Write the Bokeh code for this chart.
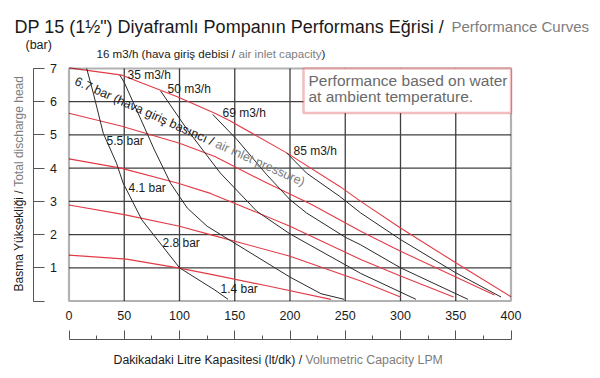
import math
from bokeh.plotting import figure
from bokeh.models import LinearAxis, FixedTicker, Label, BoxAnnotation, Range1d
from bokeh.embed import file_html
from bokeh.resources import INLINE

# ---------------- data ----------------
x_ticks = [0, 50, 100, 150, 200, 250, 300, 350, 400]
x_minor = [25, 75, 125, 175, 225, 275, 325, 375]
y_ticks = [1, 2, 3, 4, 5, 6, 7]
x_lim = [0, 400]
y_lim = [0, 7]

# red: head vs flow at constant air inlet pressure
p67_x = [0, 48, 98, 132, 146, 197, 245, 264, 300, 350, 400]
p67_y = [7.02, 6.8, 6.15, 5.65, 5.42, 4.46, 3.45, 3.0, 2.2, 1.15, 0.13]
p55_x = [0, 47, 100, 132, 175, 220, 264, 300, 350, 385]
p55_y = [5.65, 5.27, 4.75, 4.35, 3.62, 2.9, 2.1, 1.5, 0.72, 0.18]
p41_x = [0, 47, 98, 128, 164, 200, 264, 300, 348]
p41_y = [4.28, 4.0, 3.55, 3.24, 2.75, 2.25, 1.25, 0.75, 0.12]
p28_x = [0, 50, 100, 132, 200, 264, 300]
p28_y = [2.89, 2.6, 2.25, 1.96, 1.35, 0.6, 0.12]
p14_x = [0, 52, 100, 132, 180, 237]
p14_y = [1.38, 1.26, 0.99, 0.78, 0.45, 0.05]

# black: constant air consumption
q16_x = [16, 22, 31, 43, 49, 66, 100, 132, 144]
q16_y = [7.0, 6.26, 5.05, 4.15, 3.55, 2.44, 1.0, 0.33, 0.05]
q35_x = [46, 50, 65, 77, 92, 107, 125, 151, 200, 228, 249]
q35_y = [6.8, 6.58, 5.47, 4.57, 3.54, 2.8, 2.25, 1.72, 0.72, 0.22, 0.05]
q50_x = [83, 107, 137, 170, 200, 264, 314]
q50_y = [6.32, 5.16, 3.85, 2.7, 2.02, 0.83, 0.05]
q69_x = [130, 152, 179, 200, 215, 250, 264, 300, 361]
q69_y = [5.62, 4.86, 3.8, 3.05, 2.65, 1.92, 1.69, 1.0, 0.05]
q85_x = [197, 215, 245, 264, 300, 350, 391]
q85_y = [4.46, 3.85, 3.15, 2.65, 1.85, 0.85, 0.12]

red_curves = [(p67_x, p67_y), (p55_x, p55_y), (p41_x, p41_y), (p28_x, p28_y), (p14_x, p14_y)]
black_curves = [(q16_x, q16_y), (q35_x, q35_y), (q50_x, q50_y), (q69_x, q69_y), (q85_x, q85_y)]

RED = "#e23b46"
DARK = "#2b2b2b"
GRAY = "#7d7d7d"
TXT = "#1a1a1a"
FONT = "Liberation Sans"

W, H = 600, 378
L_PX, R_PX, T_PX, B_PX = 68.5, 510.5, 68.0, 300.5
sx = (R_PX - L_PX) / (x_lim[1] - x_lim[0])
sy = (B_PX - T_PX) / (y_lim[1] - y_lim[0])

p = figure(width=W, height=H, output_backend="svg", toolbar_location=None,
           x_range=Range1d(-L_PX / sx, (W - L_PX) / sx),
           y_range=Range1d(-(H - B_PX) / sy, B_PX / sy),
           x_axis_type=None, y_axis_type=None, min_border=0)
p.outline_line_color = None
p.background_fill_color = "white"
p.border_fill_color = "white"
p.xgrid.visible = False
p.ygrid.visible = False


def dx(px_):
    return (px_ - L_PX) / sx


def dy(py_):
    return (B_PX - py_) / sy


gx = x_ticks[1:-1]
p.segment(x0=gx, y0=[y_lim[0]] * len(gx), x1=gx, y1=[y_lim[1]] * len(gx), line_color="#404040", line_width=1.3)
gy = y_ticks[:-1]
p.segment(x0=[x_lim[0]] * len(gy), y0=gy, x1=[x_lim[1]] * len(gy), y1=gy, line_color="#404040", line_width=1.3)

for xs, ys in red_curves:
    p.line(xs, ys, line_color=RED, line_width=1.1)
for xs, ys in black_curves:
    p.line(xs, ys, line_color=DARK, line_width=1.0)

p.add_layout(BoxAnnotation(left=x_lim[0], right=x_lim[1], bottom=y_lim[0], top=y_lim[1],
                           fill_alpha=0, fill_color=None, line_color="black", line_width=2.2))

y_lab = LinearAxis(ticker=FixedTicker(ticks=y_ticks), fixed_location=x_lim[0], axis_line_color=None,
                   major_tick_line_color=None, minor_tick_line_color=None, major_tick_out=0, major_tick_in=0,
                   major_label_standoff=12, major_label_text_font_size="12.5px", major_label_text_font=FONT,
                   major_label_text_color=TXT)
y_line = LinearAxis(ticker=FixedTicker(ticks=[0] + y_ticks), fixed_location=dx(33), bounds=tuple(y_lim),
                    axis_line_color="#555555", axis_line_width=1,
                    major_tick_line_color="#555555", major_tick_in=11, major_tick_out=0,
                    minor_tick_line_color=None, major_label_text_color=None)
y_line.major_label_overrides = {t: "" for t in [0] + y_ticks}
p.add_layout(y_lab, "left")
p.add_layout(y_line, "left")

x_lab = LinearAxis(ticker=FixedTicker(ticks=x_ticks), fixed_location=y_lim[0], axis_line_color=None,
                   major_tick_line_color=None, minor_tick_line_color=None, major_tick_out=0, major_tick_in=0,
                   major_label_standoff=10, major_label_text_font_size="12.5px", major_label_text_font=FONT,
                   major_label_text_color=TXT)
x_line = LinearAxis(ticker=FixedTicker(ticks=x_ticks, minor_ticks=x_minor), fixed_location=dy(338.5),
                    bounds=tuple(x_lim), axis_line_color="#555555", axis_line_width=1,
                    major_tick_line_color="#555555", major_tick_in=9, major_tick_out=0,
                    minor_tick_line_color="#555555", minor_tick_in=4, minor_tick_out=0,
                    major_label_text_color=None)
x_line.major_label_overrides = {t: "" for t in x_ticks}
p.add_layout(x_lab, "below")
p.add_layout(x_line, "below")


def lab(text, px_, py_, size, color=TXT, angle=0.0, align="left", baseline="middle"):
    p.add_layout(Label(x=dx(px_), y=dy(py_), text=text,
                       text_font=FONT, text_font_size=size, text_color=color,
                       angle=angle, text_align=align, text_baseline=baseline))


lab('DP 15 (1½") Diyaframlı Pompanın Performans Eğrisi / ', 14, 26, "18px", baseline="alphabetic")
lab("Performance Curves", 451, 26, "15px", GRAY, baseline="alphabetic")
lab("(bar)", 25, 44, "12.5px")
lab("16 m3/h (hava giriş debisi / ", 96, 53, "11.6px")
lab("air inlet capacity", 238, 53, "11.6px", GRAY)
lab(")", 321, 53, "11.6px")
lab("Basma Yüksekliği / ", 18, 291, "12px", angle=math.pi / 2)
lab("Total discharge head", 18, 291 - 104.7, "12px", GRAY, angle=math.pi / 2)
lab("Dakikadaki Litre Kapasitesi (lt/dk) / ", 113, 359, "12.3px")
lab("Volumetric Capacity LPM", 305, 359, "12.3px", GRAY)

for t, px_, py_ in [("35 m3/h", 127, 74), ("50 m3/h", 167, 88), ("69 m3/h", 222, 112), ("85 m3/h", 293, 150),
                    ("5.5 bar", 106, 140), ("4.1 bar", 128, 187), ("2.8 bar", 162, 242), ("1.4 bar", 220, 288)]:
    lab(t, px_, py_, "12px")

ang = -0.42
lab("6.7 bar (hava giriş basıncı / ", 75, 80, "12.5px", angle=ang)
d = 154
lab("air inlet pressure)", 75 + d * math.cos(ang), 80 - d * math.sin(ang), "12.5px", GRAY, angle=ang)

p.add_layout(BoxAnnotation(left=dx(303), right=x_lim[1], top=y_lim[1], bottom=dy(112.5), fill_color="white",
                           fill_alpha=1, line_color="#d8232f", line_width=2.5))
lab("Performance based on water", 308, 80, "15.5px", "#6a6a6a")
lab("at ambient temperature.", 308, 96, "15.5px", "#6a6a6a")

open("out.html", "w").write(file_html(p, INLINE))
